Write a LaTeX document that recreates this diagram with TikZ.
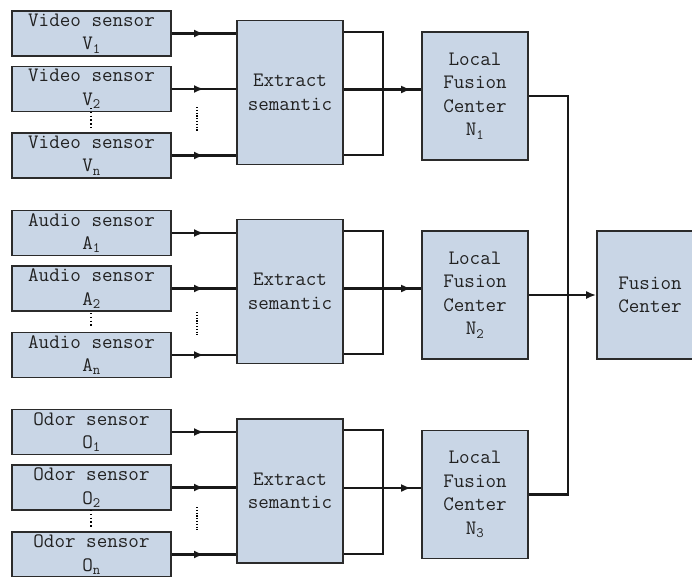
\documentclass[tikz,border=0pt]{standalone}
\usepackage{fontspec}
\usetikzlibrary{arrows.meta,decorations.markings,calc}
\definecolor{boxfill}{HTML}{C9D6E6}
\definecolor{boxline}{HTML}{2B2B2B}
\definecolor{txt}{HTML}{222222}
\newcommand{\idx}[1]{\textsubscript{#1}}
\begin{document}
\begin{tikzpicture}[x=1pt,y=-1pt,
  base/.style={draw=boxline,line width=1.7pt,fill=boxfill,text=txt,inner sep=0pt,align=center,
    font=\ttfamily\fontsize{20.5}{23.5}\selectfont},
  sensor/.style={base,minimum width=159pt,minimum height=45pt},
  ext/.style={base,minimum width=106pt,minimum height=144pt},
  lfc/.style={base,minimum width=106pt,minimum height=128pt},
  conn/.style={line width=2.1pt,draw=black!90},
  midarrow/.style={decoration={markings,mark=at position #1 with {\arrow{Latex[length=10pt,width=8pt]}}},postaction={decorate}},
  vdots/.style={line width=1.6pt,dash pattern=on 1.4pt off 2.4pt},
  hdots/.style={line width=1.7pt,dash pattern=on 1.2pt off 1.6pt}
]
\useasboundingbox (0,0) rectangle (692,576);

% ---------- Video group ----------
\node[sensor] (v1) at (91.5,33.5) {Video sensor\\V\idx{1}};
\node[sensor] (v2) at (91.5,89) {Video sensor\\V\idx{2}};
\node[sensor] (vn) at (91.5,155.5) {Video sensor\\V\idx{n}};
\node[ext] (e1) at (290,92.5) {Extract\\semantic};
\node[lfc] (n1) at (475,96) {Local\\Fusion\\Center\\N\idx{1}};

% ---------- Audio group ----------
\node[sensor] (a1) at (91.5,233) {Audio sensor\\A\idx{1}};
\node[sensor] (a2) at (91.5,288.5) {Audio sensor\\A\idx{2}};
\node[sensor] (an) at (91.5,355) {Audio sensor\\A\idx{n}};
\node[ext] (e2) at (290,291.5) {Extract\\semantic};
\node[lfc] (n2) at (475,295) {Local\\Fusion\\Center\\N\idx{2}};

% ---------- Odor group ----------
\node[sensor] (o1) at (91.5,432) {Odor sensor\\O\idx{1}};
\node[sensor] (o2) at (91.5,487.5) {Odor sensor\\O\idx{2}};
\node[sensor] (on) at (91.5,554.5) {Odor sensor\\O\idx{n}};
\node[ext] (e3) at (290,491) {Extract\\semantic};
\node[lfc] (n3) at (475,494.5) {Local\\Fusion\\Center\\N\idx{3}};

% ---------- Fusion center ----------
\node[base,minimum width=106pt,minimum height=128pt] (fc) at (650,295) {Fusion\\Center};

% ---------- inputs ----------
\foreach \s/\e in {v1/e1,v2/e1,vn/e1,a1/e2,a2/e2,an/e2,o1/e3,o2/e3,on/e3}{
  \draw[conn,midarrow=0.5] (\s.east) -- (\s.east -| \e.west);
}

% ---------- dots ----------
\foreach \e/\ya/\yb/\yc/\yd in {e1/108/128/107/131,e2/313/328/312/335,e3/510/527/507/530}{
  \draw[vdots] (91,\ya) -- (91,\yb);
  \draw[hdots] (197,\yc) -- (197,\yd);
}

% ---------- extract outputs ----------
\foreach \e/\n in {e1/n1,e2/n2,e3/n3}{
  \coordinate (\e t) at ($(\e.north east)+(0,12)$);
  \coordinate (\e b) at ($(\e.south east)+(0,-10)$);
  \coordinate (\e m) at ($(\e.east)+(0,-3)$);
  \draw[conn] (\e t) -- ++(39,0) |- (\e b);
  \draw[conn,midarrow=0.87] (\e m) -- (\e m -| \n.west);
}

% ---------- local fusion centers to fusion center ----------
\coordinate (j) at (568,295);
\draw[conn] (n1.east) -| (j);
\draw[conn] (n3.east) -| (j);
\draw[conn,-{Latex[length=10pt,width=8pt]}] (n2.east) -- (fc.west);
\end{tikzpicture}
\end{document}
